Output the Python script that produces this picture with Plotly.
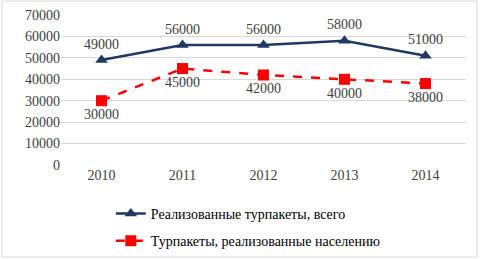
import plotly.graph_objects as go

years = ["2010", "2011", "2012", "2013", "2014"]
total = [49000, 56000, 56000, 58000, 51000]
population = [30000, 45000, 42000, 40000, 38000]
name_total = "Реализованные турпакеты, всего"
name_pop = "Турпакеты, реализованные населению"

FONT = "Liberation Serif"
TXT = "#404040"

fig = go.Figure()
fig.add_trace(go.Scatter(
    x=years, y=total, name=name_total, mode="lines+markers+text",
    line=dict(color="#203864", width=2.5),
    marker=dict(symbol="triangle-up", size=11, color="#203864"),
    text=[str(v) for v in total], textposition="top center",
    textfont=dict(family=FONT, size=14, color=TXT),
    legendgroup="a", cliponaxis=False,
))
fig.add_trace(go.Scatter(
    x=years, y=population, name=name_pop, mode="lines+markers+text",
    line=dict(color="#FF0000", width=2.5, dash="dash"),
    marker=dict(symbol="square", size=11, color="#FF0000"),
    text=[str(v) for v in population], textposition="bottom center",
    textfont=dict(family=FONT, size=14, color=TXT),
    legendgroup="b", cliponaxis=False,
))

fig.update_layout(
    width=482, height=259,
    margin=dict(l=61, r=16, t=15, b=94, autoexpand=False),
    paper_bgcolor="white", plot_bgcolor="white",
    font=dict(family=FONT, size=14, color=TXT),
    showlegend=True,
    legend=dict(orientation="v", x=0.123, xanchor="left", y=-0.22, yanchor="top",
                traceorder="grouped", tracegroupgap=6,
                font=dict(family=FONT, size=14, color="#000000"),
                bgcolor="rgba(0,0,0,0)"),
    shapes=[dict(type="rect", xref="paper", yref="paper",
                 x0=-59/405, x1=1+11/405, y0=-92/150, y1=1+14/150,
                 line=dict(color="#D9D9D9", width=1))],
)
fig.update_xaxes(showgrid=False, showline=False, ticks="", zeroline=False,
                 range=[-0.5, 4.5],
                 tickfont=dict(family=FONT, size=14, color=TXT))
fig.update_yaxes(range=[0, 70000], dtick=10000, showgrid=True, gridcolor="#D9D9D9",
                 gridwidth=1, zeroline=False, showline=False, ticks="",
                 tickformat="d", tickfont=dict(family=FONT, size=14, color=TXT))

fig.write_html("out.html", config={"displayModeBar": False},
               post_script="document.body.style.margin='0';")
